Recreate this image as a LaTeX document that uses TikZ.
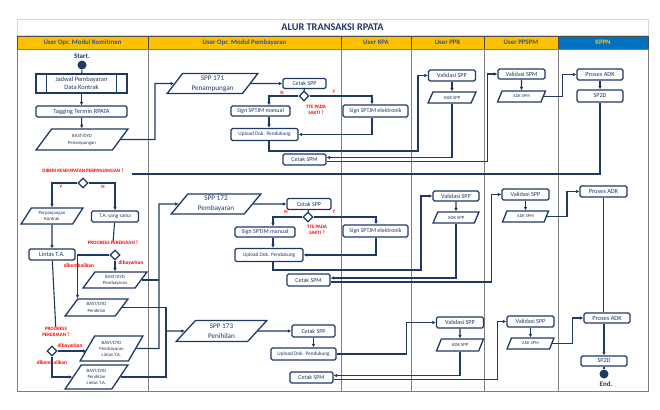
\documentclass[tikz,border=0pt]{standalone}
\usepackage{fontspec}
\setmainfont{Carlito}
\usetikzlibrary{positioning,shapes.geometric,arrows.meta}
\definecolor{navy}{HTML}{1F3864}
\definecolor{gold}{HTML}{FFC000}
\definecolor{kppnblue}{HTML}{0070C0}
\definecolor{hdrblue}{HTML}{2F5597}
\definecolor{warn}{HTML}{FF0000}
\definecolor{lanegray}{HTML}{7F7F7F}
\definecolor{framegray}{HTML}{D9D9D9}
\tikzstyle{box}=[draw=navy,line width=1.3pt,fill=white,text=navy,inner sep=0pt,align=center,rounded corners=1.5pt,font=\fontsize{6}{7.5}\selectfont]
\tikzstyle{para}=[box,rounded corners=0pt,trapezium,trapezium left angle=56,trapezium right angle=124,trapezium stretches=true]
\tikzstyle{dec}=[draw=navy,line width=1.3pt,fill=white,diamond,minimum width=10pt,minimum height=10pt,inner sep=0pt]
\tikzstyle{terminal}=[circle,fill=navy,minimum size=9pt,inner sep=0pt]
\tikzstyle{flow}=[draw=navy,line width=1.1pt]
\tikzstyle{ask}=[text=warn,inner sep=0pt,align=center,font=\bfseries\fontsize{5}{6}\selectfont]
\tikzstyle{hdr}=[draw=black!70,line width=0.6pt,fill=gold,text=hdrblue,inner sep=0pt,minimum height=13pt,font=\bfseries\fontsize{6.8}{8}\selectfont]
\tikzstyle{lanes}=[draw=lanegray,line width=0.8pt]
\tikzstyle{tiny}=[font=\fontsize{4.8}{6.5}\selectfont]
\tikzstyle{big}=[font=\fontsize{7.2}{10}\selectfont]

\begin{document}
\begin{tikzpicture}[x=1pt,y=-1pt,>={Latex[length=3.5pt,width=3.6pt]}]
  \useasboundingbox (0,0) rectangle (660,409);

  % frame and lanes
  \node(title)[draw=framegray,line width=0.6pt,minimum width=631pt,minimum height=16pt,inner sep=0pt,text=navy,font=\bfseries\fontsize{10.3}{12}\selectfont] at (332.5,27){ALUR TRANSAKSI RPATA};
  \node(h1)[hdr,minimum width=131pt] at (82.5,42.5){User Opr. Modul Komitmen};
  \node(h2)[hdr,minimum width=193pt] at (244.5,42.5){User Opr. Modul Pembayaran};
  \node(h3)[hdr,minimum width=70pt] at (376,42.5){User KPA};
  \node(h4)[hdr,minimum width=73pt] at (447.5,42.5){User PPK};
  \node(h5)[hdr,minimum width=74pt] at (521,42.5){User PPSPM};
  \node(h6)[hdr,fill=kppnblue,text=gold,minimum width=90pt] at (603,42.5){KPPN};
  \draw[lanes] (17,49) rectangle (648,391);
  \draw[lanes] (148,49) -- (148,391);
  \draw[lanes] (341,49) -- (341,391);
  \draw[lanes] (411,49) -- (411,391);
  \draw[lanes] (484,49) -- (484,391);
  \draw[lanes] (558,49) -- (558,391);

  % user opr. modul komitmen
  \node(startlbl)[text=navy,inner sep=0pt,font=\bfseries\fontsize{7}{8}\selectfont] at (82,56){Start.};
  \node(startdot)[terminal] at (82,65){};
  \node(jadwal)[box,rounded corners=0pt,font=\fontsize{6.5}{8}\selectfont,minimum width=91pt,minimum height=19pt] at (81.5,83.5){Jadwal Pembayaran\\Data Kontrak};
  \draw[navy,line width=1.3pt] ([xshift=11pt]jadwal.north west) -- ([xshift=11pt]jadwal.south west);
  \draw[navy,line width=1.3pt] ([xshift=-11pt]jadwal.north east) -- ([xshift=-11pt]jadwal.south east);
  \node(tagging)[box,font=\fontsize{6.4}{7.5}\selectfont,minimum width=91pt,minimum height=11pt] at (81.5,111.5){Tagging Termin RPATA};
  \node(bast1)[para,tiny,minimum width=92pt,minimum height=21pt] at (82,139.5){BAST/DYD\\Penampungan};

  \node(q1text)[ask] at (83,171){DIBERI KESEMPATAN PERPANJANGAN ?};
  \coordinate(q1) at (132,174);
  \node(dia2)[dec] at (83,183){};
  \node(y2)[ask] at (61,187){Y};
  \node(n2)[ask] at (103,187){N};
  \node(perp)[para,tiny,minimum width=62pt,minimum height=16pt] at (52,216){Perpanjangan\\Kontrak};
  \node(tasama)[box,font=\fontsize{5.3}{6.5}\selectfont,minimum width=47pt,minimum height=11pt] at (115,216.5){T.A. yang sama};
  \node(prog1)[ask] at (113,243){PROGRESS PEKERJAAN ?};
  \node(dia3)[dec] at (115,255){};
  \node(lintas)[box,font=\fontsize{6.3}{7.5}\selectfont,minimum width=46pt,minimum height=11pt] at (52,254.5){Lintas T.A.};
  \node(bayar1)[ask,font=\bfseries\fontsize{5.4}{6.5}\selectfont] at (131,263){dibayarkan};
  \node(kembali1)[ask,font=\bfseries\fontsize{5.4}{6.5}\selectfont] at (79,266){dikembalikan};
  \node(bastbayar)[para,tiny,minimum width=64pt,minimum height=16pt] at (115,280){BAST/DYD\\Pembayaran};
  \node(bastnihil)[para,tiny,minimum width=63pt,minimum height=17pt] at (96.5,307.5){BAST/DYD\\Penihilan};
  \node(prog2)[ask] at (56,332){PROGRESS\\PEKERJAAN ?};
  \node(dia4)[dec] at (52,351){};
  \node(bayar2)[ask,font=\bfseries\fontsize{5.4}{6.5}\selectfont] at (70,346){dibayarkan};
  \node(kembali2)[ask,font=\bfseries\fontsize{5.4}{6.5}\selectfont] at (52,363){dikembalikan};
  \node(bastbayarlintas)[para,tiny,font=\fontsize{4.8}{6}\selectfont,minimum width=63pt,minimum height=25pt] at (111.5,348.5){BAST/DYD\\Pembayaran\\Lintas T.A.};
  \node(bastnihillintas)[para,tiny,font=\fontsize{4.8}{6}\selectfont,minimum width=63pt,minimum height=24pt] at (96.5,377){BAST/DYD\\Penihilan\\Lintas T.A.};

  % user opr. modul pembayaran, row 171
  \node(spp171)[para,big,minimum width=91pt,minimum height=20pt] at (212.5,83.5){SPP 171\\Penampungan};
  \node(cetak1)[box,minimum width=43pt,minimum height=10pt] at (304.5,83.5){Cetak SPP};
  \node(dia1)[dec] at (304,96){};
  \node(n1)[ask] at (282,93){N};
  \node(y1)[ask] at (334,92){Y};
  \node(tte1)[ask] at (316,110){TTE PADA\\SAKTI ?};
  \node(sign1)[box,minimum width=59pt,minimum height=10pt] at (260.5,111){\textit{Sign} SPTJM manual};
  \node(signe1)[box,font=\fontsize{5.9}{7}\selectfont,minimum width=65pt,minimum height=12pt] at (375.5,111){Sign SPTJM elektronik};
  \node(upload1)[box,font=\fontsize{5.3}{6.5}\selectfont,minimum width=67pt,minimum height=12pt] at (264.5,134.5){Upload Dok. Pendukung};
  \node(cetakspm1)[box,minimum width=43pt,minimum height=11pt] at (304.5,159.5){Cetak SPM};
  \node(valspp1)[box,font=\fontsize{6.2}{7.5}\selectfont,minimum width=47pt,minimum height=11pt] at (452,75.5){Validasi SPP};
  \node(adkspp1)[para,tiny,minimum width=48pt,minimum height=11pt] at (452,97.5){ADK SPP};
  \node(valspm1)[box,font=\fontsize{6.2}{7.5}\selectfont,minimum width=47pt,minimum height=10pt] at (521.5,74){Validasi SPM};
  \node(adkspm1)[para,font=\fontsize{4.4}{5.5}\selectfont,minimum width=48pt,minimum height=11pt] at (521.5,96.5){ADK SPM};
  \node(proses1)[box,font=\fontsize{6.4}{7.5}\selectfont,minimum width=46pt,minimum height=11pt] at (600,74.5){Proses ADK};
  \node(sp2d1)[box,font=\fontsize{6.2}{7.5}\selectfont,minimum width=46pt,minimum height=12pt] at (600,96){SP2D};
  \coordinate(col1) at (269,0);
  \coordinate(col2) at (372,0);

  % row 172
  \node(spp172)[para,big,minimum width=90pt,minimum height=20pt] at (216,204){SPP 172\\Pembayaran};
  \node(cetak2)[box,minimum width=44pt,minimum height=11pt] at (309,204){Cetak SPP};
  \node(dia5)[dec] at (308,217){};
  \node(n5)[ask] at (286,212){N};
  \node(y5)[ask] at (334,212){Y};
  \node(tte2)[ask] at (317,230){TTE PADA\\SAKTI ?};
  \node(sign2)[box,minimum width=60pt,minimum height=10pt] at (265,232){Sign SPTJM manual};
  \node(signe2)[box,font=\fontsize{5.9}{7}\selectfont,minimum width=65pt,minimum height=12pt] at (375.5,231){Sign SPTJM elektronik};
  \node(upload2)[box,font=\fontsize{5.3}{6.5}\selectfont,minimum width=68pt,minimum height=13pt] at (269,255){Upload Dok. Pendukung};
  \node(cetakspm2)[box,minimum width=43pt,minimum height=12pt] at (308.5,280){Cetak SPM};
  \node(valspp2)[box,font=\fontsize{6.2}{7.5}\selectfont,minimum width=46pt,minimum height=10pt] at (456,196){Validasi SPP};
  \node(adkspp2)[para,tiny,minimum width=46pt,minimum height=11pt] at (456,217.5){ADK SPP};
  \node(valspm2)[box,font=\fontsize{6.2}{7.5}\selectfont,minimum width=47pt,minimum height=11pt] at (525.5,194.5){Validasi SPP};
  \node(adkspm2)[para,font=\fontsize{4.4}{5.5}\selectfont,minimum width=46pt,minimum height=11pt] at (525.5,216.5){ADK SPM};
  \node(proses2)[box,font=\fontsize{6.4}{7.5}\selectfont,minimum width=47pt,minimum height=11pt] at (603.5,191.5){Proses ADK};
  \coordinate(col3) at (273,0);
  \coordinate(col4) at (376,0);

  % row 173
  \node(spp173)[para,big,minimum width=91pt,minimum height=21pt] at (221.5,331){SPP 173\\Penihilan};
  \node(cetak3)[box,minimum width=43pt,minimum height=12pt] at (313.5,331){Cetak SPP};
  \node(upload3)[box,font=\fontsize{5.3}{6.5}\selectfont,minimum width=65pt,minimum height=12pt] at (303.5,354){Upload Dok. Pendukung};
  \node(cetakspm3)[box,minimum width=43pt,minimum height=11pt] at (311.5,377.5){Cetak SPM};
  \node(valspp3)[box,font=\fontsize{6.2}{7.5}\selectfont,minimum width=47pt,minimum height=11pt] at (460,322.5){Validasi SPP};
  \node(adkspp3)[para,tiny,minimum width=47pt,minimum height=12pt] at (460,345){ADK SPP};
  \node(valspm3)[box,font=\fontsize{6.2}{7.5}\selectfont,minimum width=47pt,minimum height=11pt] at (530.5,321.5){Validasi SPP};
  \node(adkspm3)[para,font=\fontsize{4.4}{5.5}\selectfont,minimum width=47pt,minimum height=11pt] at (530.5,343.5){ADK SPM};
  \node(proses3)[box,font=\fontsize{6.4}{7.5}\selectfont,minimum width=46pt,minimum height=10pt] at (607,318){Proses ADK};
  \node(sp2d3)[box,font=\fontsize{6.2}{7.5}\selectfont,minimum width=46pt,minimum height=10pt] at (604,361){SP2D};
  \node(enddot)[terminal] at (604,374){};
  \node(endlbl)[text=navy,inner sep=0pt,font=\bfseries\fontsize{7}{8}\selectfont] at (606,384){End.};

  % komitmen flow
  \draw[flow] (startdot) -- (jadwal);
  \path[flow,->]
    (jadwal) edge (tagging)
    (tagging) edge (bast1)
    (perp) edge (lintas)
    (dia3) edge (bastbayar);
  \draw[flow,->] (bast1.east) -| (155,83.5) -- (spp171.west);
  \draw[flow,->] (dia2.west) -| (perp.north);
  \draw[flow,->] (dia2.east) -| (tasama.north);
  \draw[flow] (tasama) -- (prog1);
  \draw[flow,->] (dia3.west) -| (bastnihil.top left corner);
  \draw[flow] (lintas) -- (prog2);
  \draw[flow,->] (dia4.east) -- (dia4.east -| bastbayarlintas.west);
  \draw[flow,->] (dia4.south) |- (bastnihillintas.west);
  \coordinate(spine1) at (159,204);
  \coordinate(spine2) at (166,331);
  \draw[flow] (bastbayar.east) -- (bastbayar.east -| spine1);
  \draw[flow,->] (bastbayarlintas.east) -| (spine1) -- (spp172.west);
  \draw[flow] (bastnihil.east) -| (spine2);
  \draw[flow] (bastnihillintas.east) -| (spine2);
  \draw[flow,->] (spine2) -- (spp173.west);

  % row 171 flow
  \path[flow,->]
    (spp171) edge (cetak1)
    (valspp1) edge (adkspp1)
    (valspm1) edge (adkspm1)
    (proses1) edge (sp2d1);
  \draw[flow] (cetak1) -- (dia1);
  \draw[flow,->] (dia1.west) -| (col1 |- sign1.north);
  \draw[flow,->] (dia1.east) -| (col2 |- signe1.north);
  \draw[flow,->] (col1 |- sign1.south) -- (col1 |- upload1.north);
  \draw[flow,->] (col2 |- signe1.south) |- (upload1.east);
  \draw[flow,->] (col1 |- upload1.south) |- (418,151) |- (valspp1.west);
  \draw[flow,->] (adkspp1.south) |- ([yshift=2pt]cetakspm1.east);
  \draw[flow,->] ([yshift=-2pt]cetakspm1.east) -- ++(161,0) |- (valspm1.west);
  \draw[flow,->] (adkspm1.east) -- ++(19,0) |- (proses1.west);
  \draw[flow] (sp2d1.south) |- (q1);

  % row 172 flow
  \path[flow,->]
    (spp172) edge (cetak2)
    (valspp2) edge (adkspp2)
    (valspm2) edge (adkspm2);
  \draw[flow] (cetak2) -- (dia5);
  \draw[flow,->] (dia5.west) -| (col3 |- sign2.north);
  \draw[flow,->] (dia5.east) -| (col4 |- signe2.north);
  \draw[flow,->] (col3 |- sign2.south) -- (col3 |- upload2.north);
  \draw[flow,->] (col4 |- signe2.south) |- (upload2.east);
  \draw[flow,->] (col3 |- upload2.south) |- (421,270) |- (valspp2.west);
  \draw[flow,->] (adkspp2.south) |- ([yshift=2pt]cetakspm2.east);
  \draw[flow,->] ([yshift=-2pt]cetakspm2.east) -- ++(161,0) |- (valspm2.west);
  \draw[flow,->] (adkspm2.east) -- ++(20,0) |- (proses2.west);
  \draw[flow] (proses2.south) -- (proses2.south |- proses3.north);

  % row 173 flow
  \path[flow,->]
    (spp173) edge (cetak3)
    (valspp3) edge (adkspp3)
    (valspm3) edge (adkspm3);
  \draw[flow,->] (cetak3.south) -- (cetak3.south |- upload3.north);
  \draw[flow,->] (upload3.east) -- ++(70,0) |- (valspp3.west);
  \draw[flow,->] (adkspp3.south) |- ([yshift=2pt]cetakspm3.east);
  \draw[flow,->] ([yshift=-2pt]cetakspm3.east) -- ++(164,0) |- (valspm3.west);
  \draw[flow,->] (adkspm3.east) -- ++(20,0) |- (proses3.west);
  \draw[flow,->] (proses3.south -| sp2d3.north) -- (sp2d3.north);
  \draw[flow] (sp2d3) -- (enddot);
\end{tikzpicture}
\end{document}
